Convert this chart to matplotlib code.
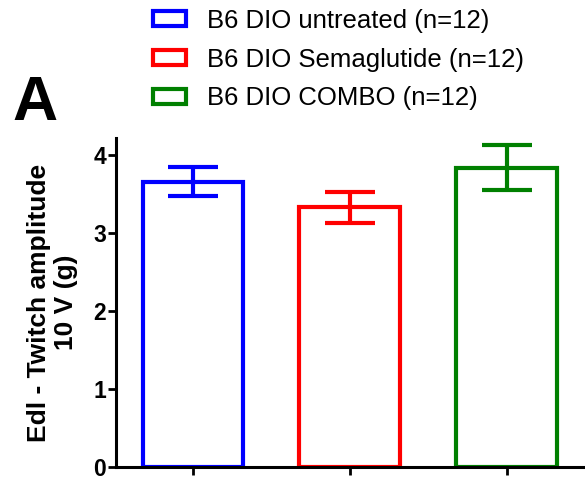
import matplotlib.pyplot as plt
from matplotlib.patches import Patch

plt.rcParams['font.family'] = ['Liberation Sans', 'DejaVu Sans']

groups = ['B6 DIO untreated (n=12)', 'B6 DIO Semaglutide (n=12)', 'B6 DIO COMBO (n=12)']
means = [3.66, 3.33, 3.84]
sems = [0.19, 0.20, 0.29]
colors = ['#0000ff', '#ff0000', '#008000']

fig = plt.figure(figsize=(5.85, 4.79), dpi=100)
ax = fig.add_axes([0.198, 0.025, 0.802, 0.687])

x = range(len(means))
for i in x:
    ax.bar(i, means[i], width=0.64, facecolor='white', edgecolor=colors[i], linewidth=3)
    ax.errorbar(i, means[i], yerr=sems[i], color=colors[i], elinewidth=3,
                capsize=18, capthick=3, fmt='none')

ax.set_xlim(-0.49, 2.5)
ax.set_ylim(0, 4.22)
ax.set_yticks([0, 1, 2, 3, 4])
ax.set_xticks(list(x))
ax.set_xticklabels([])
for s in ['top', 'right']:
    ax.spines[s].set_visible(False)
for s in ['left', 'bottom']:
    ax.spines[s].set_linewidth(2.2)
ax.tick_params(axis='both', width=2, length=5.5, labelsize=16.5, pad=1.5)
for lab in ax.get_yticklabels():
    lab.set_fontweight('bold')

ax.set_ylabel('Edl - Twitch amplitude\n10 V (g)', fontsize=19, fontweight='bold',
              linespacing=1.15)
ax.yaxis.set_label_coords(-0.081, 0.5)

fig.text(0.022, 1 - 120 / 479, 'A', fontsize=45, fontweight='bold', va='baseline')

handles = [Patch(facecolor='white', edgecolor=c, linewidth=3) for c in colors]
fig.legend(handles, groups, loc='upper left', bbox_to_anchor=(0.2615, 0.982),
           frameon=False, fontsize=18.5, handlelength=1.3, handleheight=0.55,
           handletextpad=0.8, labelspacing=0.58, borderpad=0, borderaxespad=0)

fig.savefig('out.png', dpi=100)
